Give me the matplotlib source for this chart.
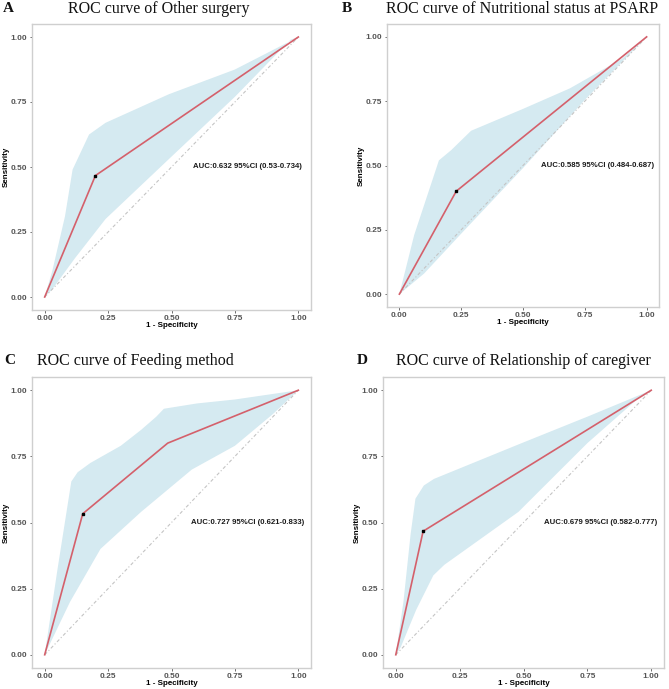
import numpy as np
import matplotlib
matplotlib.use('Agg')
import matplotlib.pyplot as plt

# ROC curves (1 - specificity, sensitivity)
a_fpr = [0.0, 0.20, 1.0]
a_tpr = [0.0, 0.467, 1.0]
b_fpr = [0.0, 0.23, 1.0]
b_tpr = [0.0, 0.40, 1.0]
c_fpr = [0.0, 0.15, 0.485, 1.0]
c_tpr = [0.0, 0.533, 0.80, 1.0]
d_fpr = [0.0, 0.107, 1.0]
d_tpr = [0.0, 0.467, 1.0]

# best cut-off point
a_best = (0.20, 0.467)
b_best = (0.23, 0.40)
c_best = (0.15, 0.533)
d_best = (0.107, 0.467)

# 95% CI band of sensitivity, upper and lower edge
a_up_x = [0.0, 0.03, 0.08, 0.11, 0.175, 0.24, 0.49, 0.75, 1.0]
a_up_y = [0.0, 0.10, 0.31, 0.49, 0.625, 0.67, 0.78, 0.875, 1.0]
a_lo_x = [0.0, 0.03, 0.12, 0.24, 0.50, 0.75, 0.97, 1.0]
a_lo_y = [0.0, 0.03, 0.15, 0.30, 0.54, 0.77, 0.99, 1.0]

b_up_x = [0.0, 0.06, 0.16, 0.21, 0.29, 0.50, 0.69, 0.90, 1.0]
b_up_y = [0.0, 0.23, 0.52, 0.56, 0.635, 0.72, 0.80, 0.915, 1.0]
b_lo_x = [0.0, 0.10, 0.25, 0.50, 0.75, 1.0]
b_lo_y = [0.0, 0.08, 0.235, 0.49, 0.755, 1.0]

c_up_x = [0.0, 0.05, 0.105, 0.13, 0.18, 0.30, 0.38, 0.44, 0.47, 0.60, 0.75, 1.0]
c_up_y = [0.0, 0.32, 0.655, 0.69, 0.725, 0.79, 0.85, 0.90, 0.93, 0.95, 0.965, 1.0]
c_lo_x = [0.0, 0.02, 0.10, 0.22, 0.38, 0.58, 0.75, 0.90, 1.0]
c_lo_y = [0.0, 0.04, 0.20, 0.40, 0.54, 0.70, 0.79, 0.91, 1.0]

d_up_x = [0.0, 0.03, 0.058, 0.077, 0.11, 0.15, 0.48, 0.75, 1.0]
d_up_y = [0.0, 0.20, 0.455, 0.59, 0.64, 0.665, 0.795, 0.90, 1.0]
d_lo_x = [0.0, 0.02, 0.08, 0.147, 0.19, 0.48, 0.75, 0.95, 1.0]
d_lo_y = [0.0, 0.03, 0.17, 0.30, 0.34, 0.54, 0.80, 0.97, 1.0]

titles = ['ROC curve of Other surgery', 'ROC curve of Nutritional status at PSARP',
          'ROC curve of Feeding method', 'ROC curve of Relationship of caregiver']
letters = ['A', 'B', 'C', 'D']
auc_text = ['AUC:0.632 95%CI (0.53-0.734)', 'AUC:0.585 95%CI (0.484-0.687)',
            'AUC:0.727 95%CI (0.621-0.833)', 'AUC:0.679 95%CI (0.582-0.777)']
tick_vals = [0, 0.25, 0.5, 0.75, 1.0]
tick_labs = ['0.00', '0.25', '0.50', '0.75', '1.00']

panels = [
    (a_fpr, a_tpr, a_best, a_up_x, a_up_y, a_lo_x, a_lo_y),
    (b_fpr, b_tpr, b_best, b_up_x, b_up_y, b_lo_x, b_lo_y),
    (c_fpr, c_tpr, c_best, c_up_x, c_up_y, c_lo_x, c_lo_y),
    (d_fpr, d_tpr, d_best, d_up_x, d_up_y, d_lo_x, d_lo_y),
]

W, H = 669, 689
# axes boxes in pixels: left, top, right, bottom
boxes = [(32, 24, 311, 310), (387, 24, 659, 307), (32, 377, 311, 668), (383, 377, 664, 668)]
# title positions (x left, y centre) and letter positions, pixels
title_pos = [(68, 9), (386, 9), (37, 361), (396, 361)]
letter_pos = [(3, 9), (342, 9), (4, 361), (357, 361)]

fig = plt.figure(figsize=(W / 100, H / 100), dpi=100)
fig.patch.set_facecolor('white')

serif = ['Liberation Serif', 'DejaVu Serif']
sans = ['Liberation Sans', 'DejaVu Sans']

for i, (fpr, tpr, best, ux, uy, lx, ly) in enumerate(panels):
    l, t, r, b = boxes[i]
    ax = fig.add_axes([l / W, 1 - b / H, (r - l) / W, (b - t) / H])

    # band as a closed polygon
    px = list(ux) + list(lx[::-1])
    py = list(uy) + list(ly[::-1])
    ax.fill(px, py, color='#d5eaf1', lw=0, zorder=1)

    ax.plot([0, 1], [0, 1], color='#c4c4c4', lw=0.8, ls=(0, (3, 2, 1, 2)), zorder=2)
    ax.plot(fpr, tpr, color='#d4606b', lw=1.2, zorder=3)
    ax.plot([best[0]], [best[1]], marker='s', ms=2.0, color='black', zorder=4)

    ax.text(0.8, 0.5, auc_text[i], ha='center', va='center', fontsize=5.6,
            fontweight='bold', family=sans, color='#1a1a1a')

    ax.set_xlim(-0.05, 1.05)
    ax.set_ylim(-0.05, 1.05)
    ax.set_xticks(tick_vals)
    ax.set_yticks(tick_vals)
    ax.set_xticklabels(tick_labs)
    ax.set_yticklabels(tick_labs)
    for lab in ax.get_xticklabels() + ax.get_yticklabels():
        lab.set_family(sans)
        lab.set_fontweight('bold')
        lab.set_fontsize(6)
        lab.set_color('#555555')
    ax.tick_params(length=1.8, width=0.6, color='#555555', pad=1.5)
    for s in ax.spines.values():
        s.set_color('#cfcfcf')
        s.set_linewidth(1.0)
    ax.set_xlabel('1 - Specificity', fontsize=5.8, fontweight='bold', family=sans, labelpad=0.5)
    ax.set_ylabel('Sensitivity', fontsize=5.8, fontweight='bold', family=sans, labelpad=0.8)

    tx, ty = title_pos[i]
    fig.text(tx / W, 1 - ty / H, titles[i], ha='left', va='center', fontsize=11.5,
             family=serif, color='#111111')
    lx0, ly0 = letter_pos[i]
    fig.text(lx0 / W, 1 - ly0 / H, letters[i], ha='left', va='center', fontsize=11,
             family=serif, fontweight='bold', color='#111111')

fig.savefig('out.png', dpi=100)
